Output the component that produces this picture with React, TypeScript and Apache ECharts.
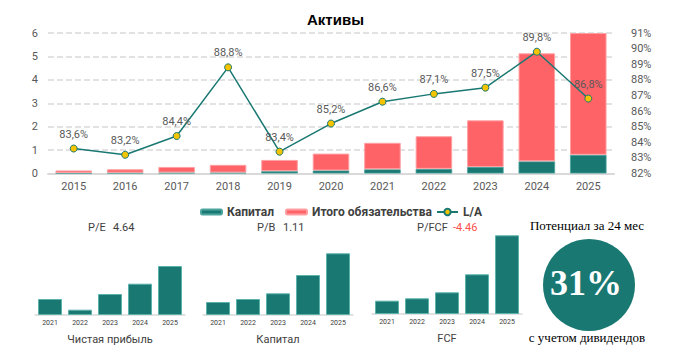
import React, { useEffect, useRef } from "react";
import * as echarts from "echarts";

const years = ["2015", "2016", "2017", "2018", "2019", "2020", "2021", "2022", "2023", "2024", "2025"];
const capital = [0.02, 0.03, 0.04, 0.04, 0.1, 0.13, 0.18, 0.2, 0.28, 0.52, 0.8];
const liabilities = [0.11, 0.15, 0.24, 0.33, 0.48, 0.72, 1.13, 1.39, 1.99, 4.61, 5.2];
const laRatio = [83.6, 83.2, 84.4, 88.8, 83.4, 85.2, 86.6, 87.1, 87.5, 89.8, 86.8];
const leftTicks = { min: 0, max: 6, interval: 1 };
const rightTicks = { min: 82, max: 91, interval: 1 };

const smallYears = ["2021", "2022", "2023", "2024", "2025"];
const netProfit = [16, 5.3, 21, 31.3, 49];
const equitySmall = [13, 16, 21.7, 40, 61.7];
const fcf = [13.3, 15.7, 21.7, 39.7, 78.7];
const smallTitles = ["Чистая прибыль", "Капитал", "FCF"];
const multipleNames = ["P/E", "P/B", "P/FCF"];
const multipleValues = ["4.64", "1.11", "-4.46"];

const TEAL = "#1a7872";
const RED = "#fe6368";
const SANS = "Roboto, 'Open Sans', sans-serif";
const SERIF = "'Liberation Serif', 'DejaVu Serif', serif";

export default function App() {
  const ref = useRef<HTMLDivElement>(null);
  useEffect(() => {
    if (!ref.current) return;
    const chart = echarts.init(ref.current, undefined, { renderer: "svg" });

    const smallData = [netProfit, equitySmall, fcf];
    const smallLefts = [35, 203, 372];
    const legendText = { fontSize: 12, fontWeight: "bold", color: "#404040", fontFamily: SANS };

    const option: any = {
      animation: false,
      backgroundColor: "#ffffff",
      textStyle: { fontFamily: SANS },
      title: {
        text: "Активы",
        left: 302,
        top: 7,
        textStyle: { fontSize: 15, fontWeight: "bold", color: "#000", fontFamily: "'Liberation Sans', Arial, sans-serif" },
      },
      legend: [
        {
          data: ["Капитал", "Итого обязательства"],
          left: 195,
          top: 201,
          itemWidth: 21,
          itemHeight: 5,
          itemGap: 11,
          textStyle: legendText,
        },
        {
          data: ["L/A"],
          left: 431,
          top: 201,
          itemWidth: 21,
          itemHeight: 8,
          textStyle: legendText,
        },
      ],
      grid: [
        { left: 48, top: 33, width: 566, height: 140.5 },
        ...smallLefts.map((l, i) => ({ left: l, width: 150, top: i === 2 ? 234 : 235, height: 80 })),
      ],
      xAxis: [
        {
          type: "category",
          gridIndex: 0,
          data: years,
          axisTick: { show: false },
          axisLine: { lineStyle: { color: "#d9d9d9", width: 2 } },
          axisLabel: { color: "#595959", fontSize: 11, margin: 7 },
        },
        ...smallLefts.map((_, i) => ({
          type: "category",
          gridIndex: i + 1,
          data: smallYears,
          axisTick: { show: false },
          axisLine: { lineStyle: { color: "#d9d9d9", width: 1.5 } },
          axisLabel: { color: "#404040", fontSize: 7, margin: 4 },
          name: smallTitles[i],
          nameLocation: "middle",
          nameGap: 19,
          nameTextStyle: { fontSize: 11, color: "#404040" },
        })),
      ],
      yAxis: [
        {
          type: "value",
          gridIndex: 0,
          ...leftTicks,
          axisLine: { show: false },
          axisTick: { show: false },
          axisLabel: { color: "#595959", fontSize: 11, margin: 10 },
          splitLine: { lineStyle: { color: "#d9d9d9", type: [6, 3], width: 1.5 } },
        },
        {
          type: "value",
          gridIndex: 0,
          position: "right",
          ...rightTicks,
          axisLine: { show: false },
          axisTick: { show: false },
          axisLabel: { color: "#595959", fontSize: 11, margin: 17, formatter: "{value}%" },
          splitLine: { show: false },
        },
        ...smallLefts.map((_, i) => ({
          type: "value",
          gridIndex: i + 1,
          min: 0,
          max: 80,
          show: false,
        })),
      ],
      series: [
        {
          name: "Капитал",
          type: "bar",
          stack: "assets",
          barWidth: "71%",
          data: capital,
          itemStyle: { color: TEAL, borderColor: "#4da59e", borderWidth: 0.8 },
        },
        {
          name: "Итого обязательства",
          type: "bar",
          stack: "assets",
          barWidth: "71%",
          data: liabilities,
          itemStyle: { color: RED, borderColor: "#ff9fa2", borderWidth: 1 },
        },
        {
          name: "L/A",
          type: "line",
          yAxisIndex: 1,
          data: laRatio,
          symbol: "circle",
          symbolSize: 7,
          lineStyle: { color: TEAL, width: 1.5 },
          itemStyle: { color: "#f5c400", borderColor: TEAL, borderWidth: 1 },
          label: {
            show: true,
            position: "top",
            color: "#595959",
            fontSize: 11,
            formatter: (p: any) => p.value.toFixed(1).replace(".", ",") + "%",
          },
          z: 5,
        },
        ...smallData.map((d, i) => ({
          name: "small" + i,
          type: "bar",
          xAxisIndex: i + 1,
          yAxisIndex: i + 2,
          barWidth: 24,
          data: d,
          itemStyle: { color: TEAL, borderColor: "#5bb3ab", borderWidth: 1 },
        })),
      ],
      graphic: [
        ...[88, 257, 417].map((x, i) => ({
          type: "text",
          x,
          y: 227,
          style: {
            text: multipleNames[i],
            fontSize: 11,
            fontFamily: SANS,
            fill: "#404040",
            verticalAlign: "middle",
          },
        })),
        ...[113, 283, 453].map((x, i) => ({
          type: "text",
          x,
          y: 227,
          style: {
            text: multipleValues[i],
            fontSize: 11,
            fontFamily: SANS,
            fill: multipleValues[i].startsWith("-") ? "#ff4d4d" : "#404040",
            verticalAlign: "middle",
          },
        })),
        {
          type: "text",
          x: 587,
          y: 225,
          style: {
            text: "Потенциал за 24 мес",
            fontSize: 13,
            fontFamily: SERIF,
            fill: "#000",
            align: "center",
            verticalAlign: "middle",
          },
        },
        {
          type: "circle",
          shape: { cx: 589, cy: 285, r: 46 },
          style: { fill: TEAL },
        },
        {
          type: "text",
          x: 586,
          y: 283,
          z: 10,
          style: {
            text: "31%",
            fontSize: 36,
            fontWeight: "bold",
            fontFamily: SERIF,
            fill: "#ffffff",
            align: "center",
            verticalAlign: "middle",
          },
        },
        {
          type: "text",
          x: 587,
          y: 337,
          style: {
            text: "с учетом дивидендов",
            fontSize: 13,
            fontFamily: SERIF,
            fill: "#000",
            align: "center",
            verticalAlign: "middle",
          },
        },
      ],
    };
    chart.setOption(option);
    return () => chart.dispose();
  }, []);

  return (
    <div
      ref={ref}
      style={{ position: "fixed", left: 0, top: 0, width: 686, height: 352, background: "#fff" }}
    />
  );
}
